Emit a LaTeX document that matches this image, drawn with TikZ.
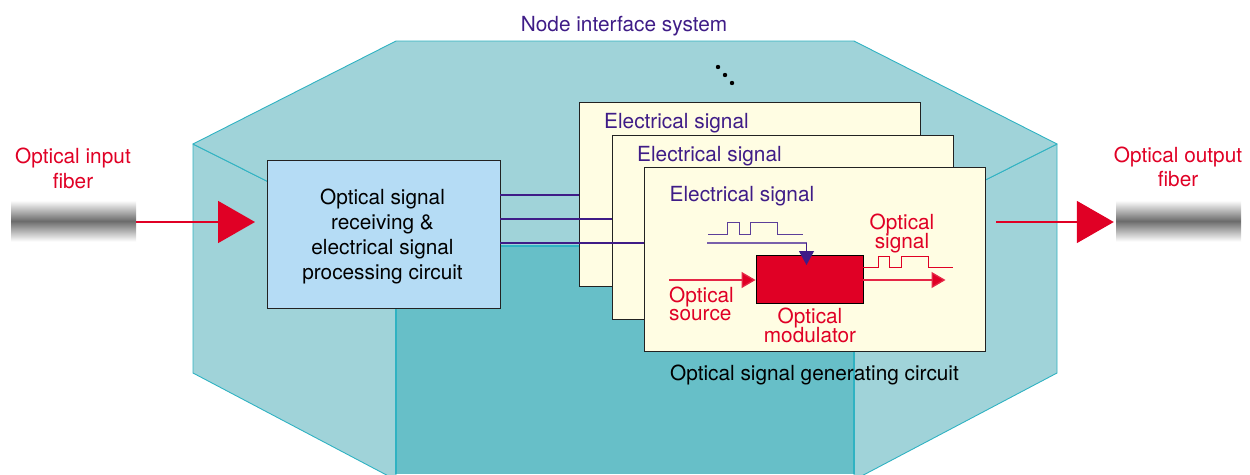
\documentclass[tikz,border=0pt]{standalone}
\usepackage{fontspec}
\setmainfont{TeX Gyre Heros}
\usetikzlibrary{arrows.meta}
\definecolor{faceteal}{HTML}{A0D3D9}
\definecolor{floorteal}{HTML}{67BFC8}
\definecolor{edgeteal}{HTML}{2FB2C2}
\definecolor{cardyellow}{HTML}{FFFDE3}
\definecolor{boxblue}{HTML}{B5DCF5}
\definecolor{sigred}{HTML}{E00025}
\definecolor{sigpurple}{HTML}{3F1C87}
\definecolor{edgedark}{HTML}{222222}
\tikzset{
  x=1pt,y=-1pt,
  lbl/.style={inner sep=0pt,font=\fontsize{20.8}{20.8}\selectfont},
  redlbl/.style={lbl,text=sigred},
  purplelbl/.style={lbl,text=sigpurple},
  card/.style={draw=edgedark,line width=0.9pt,fill=cardyellow,inner sep=0pt,minimum width=341pt,minimum height=184pt},
  fiber/.style={inner sep=0pt,minimum width=125pt,minimum height=41pt,top color=white,bottom color=white,middle color=black!58},
  facefill/.style={fill=faceteal,draw=edgeteal,line width=0.9pt,line join=round},
  bigred/.style={draw=sigred,line width=1.7pt,-{Triangle[length=37pt,width=42pt,fill=sigred]}},
  smallred/.style={draw=sigred!85!white,line width=1.3pt,-{Triangle[length=14pt,width=16pt,fill=sigred]}},
  wirep/.style={draw=sigpurple,line width=1.5pt},
  pulsep/.style={draw=sigpurple!85!white,line width=0.9pt},
  pulser/.style={draw=sigred,line width=0.9pt},
}
\begin{document}
\begin{tikzpicture}
\useasboundingbox (0,0) rectangle (1250,474);
\begin{scope}
\clip (0,0) rectangle (1250,474);
% housing
\fill[floorteal] (396,246) -- (854,246) -- (854,474) -- (396,474) -- cycle;
\draw[facefill] (193,144) -- (396,246) -- (396,480) -- (193,373) -- cycle;
\draw[facefill] (1057,144) -- (854,246) -- (854,480) -- (1057,373) -- cycle;
\draw[facefill] (396,41) -- (854,41) -- (1057,144) -- (854,246) -- (396,246) -- (193,144) -- cycle;
\draw[edgeteal,line width=1.4pt] (396,246) -- (854,246) (396,246) -- (396,474) (854,246) -- (854,474);
\end{scope}
\node[purplelbl,anchor=base] (title) at (624,31) {Node interface system};
\fill (718,67) circle (2.2) (725,75) circle (2.2) (732,83) circle (2.2);
% fibers
\node[fiber] (infiber) at (73.5,221) {};
\node[fiber] (outfiber) at (1178.5,221) {};
\node[redlbl,anchor=base] (inlbla) at (73,163) {Optical input};
\node[redlbl,anchor=base] (inlblb) at (73,188) {fiber};
\node[redlbl,anchor=base] (outlbla) at (1178,162) {Optical output};
\node[redlbl,anchor=base] (outlblb) at (1178,186) {fiber};
% boxes
\node[draw=edgedark,line width=0.9pt,fill=boxblue,inner sep=0pt,minimum width=233pt,minimum height=148pt] (proc) at (383.5,234) {};
\node[lbl,anchor=base] (proca) at (382.5,204) {Optical signal};
\node[lbl,anchor=base] (procb) at (382.5,229) {receiving \&};
\node[lbl,anchor=base] (procc) at (382.5,254) {electrical signal};
\node[lbl,anchor=base] (procd) at (382.5,279) {processing circuit};
\node[card] (carda) at (749.5,194) {};
\draw[wirep] (proc.east |- 0,195) -- (carda.west |- 0,195);
\node[card] (cardb) at (782.5,227) {};
\draw[wirep] (proc.east |- 0,219) -- (cardb.west |- 0,219);
\node[card] (cardc) at (814.5,259) {};
\draw[wirep] (proc.east |- 0,243) -- (cardc.west |- 0,243);
\node[purplelbl,anchor=base west] (esa) at (604,128) {Electrical signal};
\node[purplelbl,anchor=base west] (esb) at (637,161) {Electrical signal};
\node[purplelbl,anchor=base west] (esc) at (669.5,201) {Electrical signal};
\node[lbl,anchor=base] (gen) at (814.5,380) {Optical signal generating circuit};
% modulator
\node[draw=black,line width=0.9pt,fill=sigred,inner sep=0pt,minimum width=107pt,minimum height=48pt] (mod) at (809.5,279) {};
\coordinate (srcstart) at (669,280);
\coordinate (outend) at (945.5,280);
\coordinate (wirestart) at (707,243);
\draw[smallred] (srcstart) -- (mod.west |- srcstart);
\draw[smallred] (mod.east |- outend) -- (outend);
\draw[draw=sigpurple!70!white,line width=1.3pt] (wirestart) -- (806.5,243);
\draw[draw=sigpurple,line width=1.1pt,-{Triangle[length=14pt,width=15pt,fill=sigpurple]}] (806.5,243) -- (806.5,265);
\draw[pulsep] (708,234) -- (727.5,234) -- (727.5,222) -- (739,222) -- (739,234) -- (750,234) -- (750,222) -- (777,222) -- (777,234) -- (803,234);
\draw[pulser] (mod.east |- 0,267) -- (878,267) -- (878,256) -- (889,256) -- (889,267) -- (901,267) -- (901,256) -- (928,256) -- (928,267) -- (953,267);
\node[redlbl,anchor=base] (osa) at (902,229.5) {Optical};
\node[redlbl,anchor=base] (osb) at (902,248.5) {signal};
\node[redlbl,anchor=base west] (srca) at (669,302) {Optical};
\node[redlbl,anchor=base west] (srcb) at (669,320.5) {source};
\node[redlbl,anchor=base] (moda) at (810,323) {Optical};
\node[redlbl,anchor=base] (modb) at (810,342) {modulator};
% main arrows
\coordinate (intip) at (255,222);
\coordinate (outstart) at (996,222);
\draw[bigred] (infiber.east |- intip) -- (intip);
\draw[bigred,shorten >=2pt] (outstart) -- (outfiber.west |- outstart);
\end{tikzpicture}
\end{document}
